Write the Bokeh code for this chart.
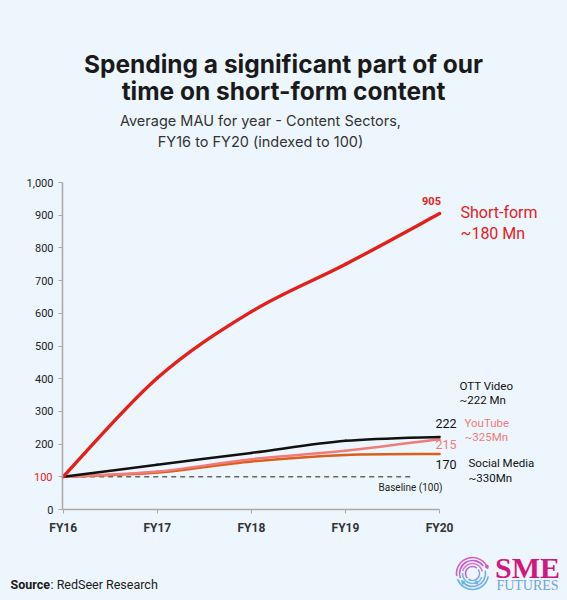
from bokeh.plotting import figure
from bokeh.models import Range1d, FixedTicker, NumeralTickFormatter, Label
from bokeh.embed import file_html
from bokeh.resources import INLINE

# ---------------- data ----------------
years = ["FY16", "FY17", "FY18", "FY19", "FY20"]
short_form = [100, 402, 605, 750, 905]
ott_video = [100, 137, 173, 210, 222]
youtube = [100, 116, 154, 180, 215]
social_media = [100, 113, 147, 167, 170]
baseline = 100
y_ticks = [0, 100, 200, 300, 400, 500, 600, 700, 800, 900, 1000]

BG = "#eef6fd"
RED = "#e3201b"
PINK = "#ef7b7b"
ORANGE = "#d8601c"
BLACK = "#111111"

W, H = 567, 600
# page-pixel -> data helpers
X0, XS = 62.7, 94.1      # FY16 at page x 62.7, 94.1 px per year
Y0, YS = 509.0, 0.327    # value 0 at page y 509, 0.327 px per unit


def px(X):
    return (X - X0) / XS


def py(Y):
    return (Y0 - Y) / YS


p = figure(width=W, height=H, output_backend="svg", toolbar_location=None,
           x_range=Range1d(px(0), px(W)), y_range=Range1d(py(H), py(0)),
           min_border=0, min_border_left=0, min_border_right=0,
           min_border_top=0, min_border_bottom=0)
p.background_fill_color = BG
p.border_fill_color = BG
p.outline_line_color = None
p.grid.visible = False

xs = list(range(len(years)))

# axes (drawn inside the frame at fixed data locations)
p.xaxis.fixed_location = 0
p.yaxis.fixed_location = px(62)
p.xaxis.ticker = FixedTicker(ticks=xs)
p.xaxis.major_label_overrides = {i: y for i, y in enumerate(years)}
p.xaxis.bounds = (px(62), len(years) - 1)
p.yaxis.ticker = FixedTicker(ticks=y_ticks)
p.yaxis.formatter = NumeralTickFormatter(format="0,0")
p.yaxis.major_label_overrides = {100: ""}
p.yaxis.bounds = (0, 1000)
for ax in (p.xaxis[0], p.yaxis[0]):
    ax.axis_line_color = "#a9a9a9"
    ax.axis_line_width = 1.5
    ax.major_tick_line_color = "#a9a9a9"
    ax.minor_tick_line_color = None
    ax.major_label_text_font = "Roboto"
    ax.major_label_text_color = "#222222"
p.xaxis.major_label_text_font_size = "12px"
p.xaxis.major_label_text_font_style = "bold"
p.xaxis.major_label_text_color = "#333333"
p.yaxis.major_label_text_font_size = "11px"
p.xaxis.major_tick_out = 4
p.xaxis.major_tick_in = 0
p.xaxis.major_label_standoff = 7
p.yaxis.major_tick_out = 4
p.yaxis.major_tick_in = 0
p.yaxis.major_label_standoff = 5

# baseline
p.segment(x0=[0], x1=[px(412)], y0=[baseline], y1=[baseline],
          line_color="#666666", line_width=1.5, line_dash="5 4")


def smooth_line(xv, yv, color, width):
    """Draw a series as a smoothed (Catmull-Rom style) curve through its points."""
    n = len(xv)
    x0, y0, x1, y1, cx0, cy0, cx1, cy1 = ([] for _ in range(8))
    for i in range(n - 1):
        a = max(i - 1, 0)
        b = min(i + 2, n - 1)
        x0.append(xv[i]); y0.append(yv[i])
        x1.append(xv[i + 1]); y1.append(yv[i + 1])
        cx0.append(xv[i] + (xv[i + 1] - xv[a]) / 6)
        cy0.append(yv[i] + (yv[i + 1] - yv[a]) / 6)
        cx1.append(xv[i + 1] - (xv[b] - xv[i]) / 6)
        cy1.append(yv[i + 1] - (yv[b] - yv[i]) / 6)
    p.bezier(x0=x0, y0=y0, x1=x1, y1=y1, cx0=cx0, cy0=cy0, cx1=cx1, cy1=cy1,
             line_color=color, line_width=width, line_cap="round")


# series
smooth_line(xs, social_media, ORANGE, 2.5)
smooth_line(xs, youtube, PINK, 2.5)
smooth_line(xs, ott_video, BLACK, 2.5)
smooth_line(xs, short_form, RED, 3.4)


def lab(text, X, Y, size, color="#222222", font="Roboto", style="normal",
        align="left"):
    p.add_layout(Label(x=px(X), y=py(Y), text=text, text_font=font,
                       text_font_size=f"{size}px", text_color=color,
                       text_font_style=style, text_align=align,
                       text_baseline="middle"))


# title block
lab("Spending a significant part of our", 283, 63, 24.5, "#1a1a1a", "Inter", "bold", "center")
lab("time on short-form content", 283, 90, 24.5, "#1a1a1a", "Inter", "bold", "center")
lab("Average MAU for year - Content Sectors,", 260, 120, 14.5, "#333333", "Inter", "normal", "center")
lab("FY16 to FY20 (indexed to 100)", 260, 141, 14.5, "#333333", "Inter", "normal", "center")

# red 100 tick label
lab("100", 52, 476.3, 11, RED, "Roboto", "normal", "right")

# baseline label
lab("Baseline (100)", 378, 487, 10, "#222222")

# end values
lab(str(short_form[-1]), 431, 200, 11, RED, "Roboto", "bold", "center")
lab(str(ott_video[-1]), 456, 423, 12.5, BLACK, align="right")
lab(str(youtube[-1]), 456, 444, 12.5, PINK, align="right")
lab(str(social_media[-1]), 456, 464, 12.5, BLACK, align="right")

# series names
lab("Short-form", 460, 212, 16, RED)
lab("~180 Mn", 460, 233, 16, RED)
lab("OTT Video", 459, 385, 11.5, BLACK)
lab("~222 Mn", 459, 399, 11.5, BLACK)
lab("YouTube", 464, 422, 11.5, PINK)
lab("~325Mn", 464, 436, 11.5, PINK)
lab("Social Media", 468, 462, 11.5, BLACK)
lab("~330Mn", 468, 477, 11.5, BLACK)

# source
lab("Source", 10, 584, 12.5, "#1a1a1a", "Roboto", "bold")
lab(": RedSeer Research", 50, 584, 12.5, "#1a1a1a", "Roboto")

# logo: ring icon + wordmark
lx, ly = px(472), py(573)
p.arc(x=[lx] * 4, y=[ly] * 4, radius=[16, 13, 10, 7], radius_units="screen",
      start_angle=[0.3, 0.6, 0.2, 0.9], end_angle=[3.3, 3.5, 2.9, 3.9],
      line_color=["#d85fb9", "#c35fd0", "#d97ac8", "#b06cd8"], line_width=1.6)
p.arc(x=[lx] * 4, y=[ly] * 4, radius=[16, 13, 10, 7], radius_units="screen",
      start_angle=[3.5, 3.7, 3.1, 4.1], end_angle=[6.1, 6.5, 5.9, 6.9],
      line_color=["#6fb6e8", "#7aa8e6", "#63c2ea", "#8aa0e4"], line_width=1.6)
p.scatter(x=[lx + 16 / XS * 0.9, lx - 13 / XS * 0.7, lx + 10 / XS * 0.4],
          y=[ly + 7 / YS, ly - 9 / YS, ly - 9 / YS], size=3,
          color=["#c35fd0", "#6fb6e8", "#7aa8e6"])
lab("SME", 527, 567, 30, "#d1187e", "Liberation Serif", "bold", "center")
lab("FUTURES", 527, 585, 14, "#6fa3dc", "Liberation Serif", "normal", "center")

html = file_html(p, INLINE).replace(
    "<head>", "<head><style>body{background:" + BG + ";}</style>", 1)
open("out.html", "w").write(html)
